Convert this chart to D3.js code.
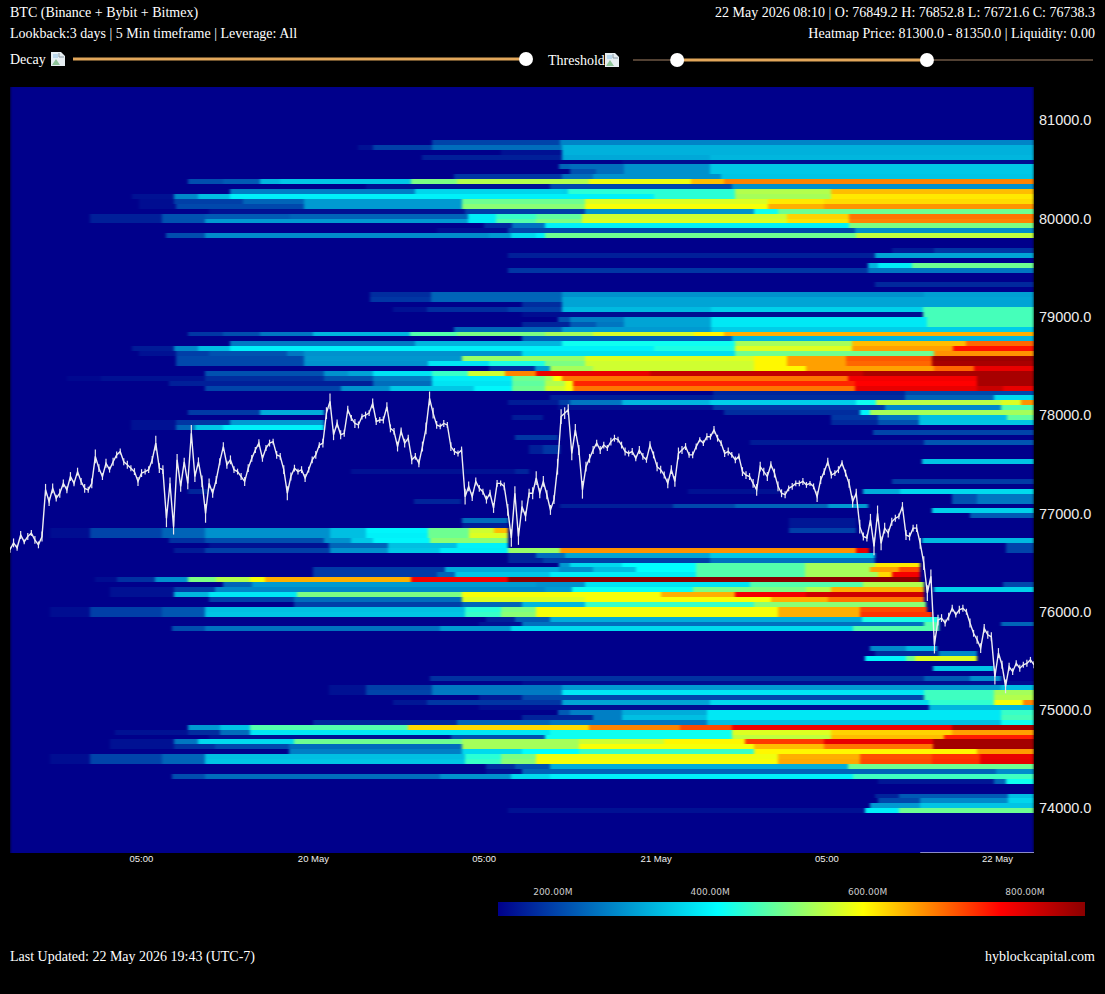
<!DOCTYPE html>
<html>
<head>
<meta charset="utf-8">
<script src="https://cdn.jsdelivr.net/npm/d3@7/dist/d3.min.js"></script>
<style>
	body { margin: 0; background: #000; }
	svg { display: block; }
	.serif { font-family: "Liberation Serif", serif; font-size: 14px; fill: #fff; }
	.x.axis text { font-family: "Liberation Sans", sans-serif; font-size: 9.5px; fill: #eee; }
	.y.axis text { font-family: "Liberation Sans", sans-serif; font-size: 14.5px; fill: #eee; }
	.legend.axis text { font-family: "DejaVu Sans", sans-serif; font-size: 9px; fill: #ccc; }
</style>
</head>
<body>
<div id="chart"></div>
<script>
var plot = {left:10, right:1034, top:87, bottom:853};

// x is hours since the left edge of the 3 day lookback
var lookbackHours = 72;
var xTickHours = [9.2, 21.3, 33.3, 45.4, 57.4, 69.4];
var xTickLabels = ["05:00", "20 May", "05:00", "21 May", "05:00", "22 May"];
var yTicks = [74000, 75000, 76000, 77000, 78000, 79000, 80000, 81000];

var headerLeft = ["BTC (Binance + Bybit + Bitmex)", "Lookback:3 days | 5 Min timeframe | Leverage: All"];
var headerRight = ["22 May 2026 08:10 | O: 76849.2 H: 76852.8 L: 76721.6 C: 76738.3", "Heatmap Price: 81300.0 - 81350.0 | Liquidity: 0.00"];

// colour bar
var legendStops = [131, 410, 595, 770, 877];
var legendColors = ["#00008b", "#00ffff", "#ffff00", "#ff0000", "#8b0000"];
var legendTicks = [200, 400, 600, 800];

// sliders
var decayValue = 100;
var thresholdValues = [9.6, 63.9];

// heatmap: low price of each 50$ row
var rowLows = [
	80750, 80700, 80650, 80600, 80550, 80500, 80450, 80400, 80350, 80300, 80250, 80200, 80150, 80100, 80050, 80000,
	79950, 79900, 79850, 79800, 79650, 79600, 79500, 79450,
	79300, 79200, 79150, 79100, 79050, 79000, 78950, 78900, 78850, 78800, 78750, 78700, 78650, 78600, 78550, 78500,
	78450, 78400, 78350, 78300, 78250, 78200, 78150, 78100, 78050, 78000, 77950, 77900, 77850, 77800, 77750, 77700,
	77650, 77600, 77500, 77400, 77300, 77200, 77150, 77100, 77050, 77000, 76950, 76900, 76850,
	76800, 76750, 76700, 76650, 76600, 76550, 76500, 76450, 76400, 76350, 76300, 76250, 76200, 76150, 76100, 76050,
	76000, 75950, 75900, 75850, 75800, 75600, 75550, 75500, 75400, 75300, 75250, 75200, 75150, 75100, 75050, 75000,
	74950, 74900, 74850, 74800, 74750, 74700, 74650, 74600, 74550, 74500, 74450, 74400, 74350, 74300, 74250,
	74100, 74050, 74000, 73950
];

// for each row, [start hour, liquidity in M]; a segment runs to the next start. 0 = nothing
var rowSegments = [
	[[29.7,205],[38.7,275]],
	[[24.5,150],[25.5,200],[29.7,250],[38.8,325]],
	[[34.5,150],[38.8,325]],
	[[29,165],[38.8,315],[49.2,330]],
	[[43,145]],
	[[38.6,240],[39.4,250],[43.2,290],[49.2,350]],
	[[39.4,220],[41.2,250],[43.2,290],[49.2,350]],
	[[31.2,190],[38.8,250],[41,290],[50,345]],
	[[12.5,215],[15,230],[17.6,330],[19,350],[28.2,500],[31.4,540],[40.7,585],[47.9,640],[50.2,680]],
	[[25,150],[38,210],[50.8,290]],
	[[15.5,270],[28.5,365],[38.8,360],[39.2,440],[51,540],[57.7,640]],
	[[8.6,150],[11.5,280],[13.2,340],[15.5,395],[45.3,440],[51,530],[57.7,610]],
	[[9.1,145],[11.5,200],[16.4,240],[20.7,300],[31.8,490],[40.4,570],[53.3,610],[57.2,620]],
	[[9.1,145],[11.7,210],[20.7,300],[31.8,510],[40.4,590],[53.3,650],[57.2,670]],
	[[14,150],[32,200],[40.4,290],[52.3,420],[54,490]],
	[[5.6,165],[10.7,220],[13.7,230],[19.7,240],[32.2,390],[34.2,450],[37,480],[40.2,560],[54.6,625],[59,690]],
	[[5.6,165],[10.7,220],[13.7,300],[32.2,390],[34.2,470],[37,500],[40.2,570],[54.6,615],[59,680]],
	[[33.3,175],[35.3,255],[37.6,395],[59,500]],
	[[30,145],[35,210],[59.4,285]],
	[[11,215],[13.7,285],[33.7,300],[35.2,370],[37,395],[37.6,490],[59.5,550]],
	[[62,160],[65,190]],
	[[35,165],[60.8,310]],
	[[60.3,330],[61,390],[63.4,490]],
	[[35,190],[60.3,260]],
	[[60.8,175]],
	[[25.3,180],[29.6,240],[38.8,290],[64.3,305]],
	[[25.3,190],[29.6,242],[38.8,310]],
	[[36,180],[38.8,310]],
	[[26.9,150],[29.3,180],[35,200],[38.8,335],[49.3,360],[64.2,460]],
	[[36,145],[64.2,460]],
	[[38.5,220],[39.4,270],[43.2,310],[49.3,385],[64.5,460]],
	[[36,170],[39.4,230],[41.2,260],[43.2,310],[49.3,385],[64.5,460]],
	[[31.2,240],[38.8,300],[49.3,355]],
	[[12.5,190],[15,215],[17.6,260],[21.3,330],[28.1,470],[31.4,500],[37.6,530],[41,565],[48.1,600],[50.2,650]],
	[[36,235],[50.8,330]],
	[[15.5,265],[28.5,330],[38.8,420],[51,530],[59.2,640],[67.2,700]],
	[[8.6,160],[11.5,280],[13.2,340],[15.5,395],[45.3,430],[51,570],[59.2,660],[66.3,760]],
	[[9.1,150],[11.7,200],[14,220],[19.5,260],[20.7,290],[36,375],[51,490],[65,670]],
	[[11.7,210],[20.7,295],[31.8,520],[40.4,570],[52.3,600],[54.6,660],[58.8,710],[64.8,860]],
	[[11.7,210],[20.7,290],[29.4,380],[33.7,430],[37.6,500],[40.4,560],[52.3,600],[54.6,660],[58.8,700],[64.8,850]],
	[[33.7,180],[36.9,300],[38,530],[41,560],[52.3,600],[56,660],[65,700],[67.8,790]],
	[[13.7,220],[22.1,290],[23.8,310],[25.5,380],[29.7,450],[32.2,560],[34.8,680],[37,790],[45,825],[60,850]],
	[[4,140],[6.4,150],[13.7,180],[22.1,220],[25.5,270],[29.7,390],[35.3,490],[37.6,530],[38.2,595],[38.8,690],[58.9,780],[68,850]],
	[[11.2,165],[25.5,250],[29.7,380],[35.3,480],[37.6,540],[39,590],[39.6,745],[59.4,770],[68,850]],
	[[13.7,205],[23.3,290],[26.7,350],[32.6,400],[35.3,490],[37.6,560],[39,590],[39.6,690],[59.4,790],[68,820],[69.8,790]],
	[[49.4,170],[62.9,210]],
	[[38,165],[49.4,180],[62.9,240],[69.2,370]],
	[[35,160],[38.6,200],[39.4,260],[43,330],[49.2,360],[59.5,420],[60.9,545],[69.7,570],[71.1,670]],
	[[38.5,150],[49.4,195],[61.5,280],[69.7,470]],
	[[12.5,195],[17.6,320],[22.1,0],[50.2,180],[59.8,400],[60.5,530]],
	[[35.3,160],[37.5,0],[57.7,190],[61,260],[63.9,340],[70.1,480]],
	[[8.5,150],[11.7,190],[15.5,300],[22.1,0],[57.7,175],[61,220],[63.9,345]],
	[[8.5,150],[11.7,240],[13,350],[15,395],[22.1,0]],
	[[60.7,205]],
	[[35.5,190],[38.5,0]],
	[[52,160],[64.3,225]],
	[[36.5,165],[37.5,190],[38.7,0]],
	[[36.5,165],[37.5,190],[38.7,0]],
	[[64.1,345]],
	[[24,150],[35.5,170],[36.5,0]],
	[[62,195]],
	[[12.5,170],[14,0],[47.7,150],[54.1,0],[60,320],[62.6,370]],
	[[66.2,220],[68,260]],
	[[28.4,170],[31.7,0],[66.2,220],[68,260]],
	[[38.7,165],[46.6,210],[51,240],[57.5,300],[60.3,0]],
	[[64.8,360]],
	[[67.5,230]],
	[[31.8,250],[35,0],[54.8,155],[59.5,0]],
	[[31.8,165],[35,0],[54.8,155],[59.5,0]],
	[[2.8,145],[5.6,205],[10.7,240],[13.7,290],[22.5,340],[25,400],[29.4,490],[32.3,560],[34,640],[35,0],[54.8,200],[59.5,0]],
	[[2.8,145],[5.6,205],[10.7,240],[13.7,290],[22.5,340],[25,395],[29.4,490],[32.3,570],[35,0]],
	[[11.2,185],[13.7,215],[22.1,290],[24,350],[25.5,400],[29.5,510],[35,0],[64.1,335]],
	[[14,150],[22.4,240],[26.6,340],[31.4,395],[35,0],[70,205]],
	[[11.5,160],[13.7,200],[22.5,290],[26.6,350],[30.2,390],[35,520],[38.7,670],[59.5,790],[60.4,0],[70,205]],
	[[35,170],[37,250],[39,310],[49.2,350],[60.8,0]],
	[[35,170],[37.5,200],[49.2,255],[60.8,0]],
	[[38.6,300],[39.4,370],[43,410],[48.2,470],[55.9,530],[60.8,610],[64,0]],
	[[21.3,195],[30.6,320],[38.6,290],[41,340],[44,410],[48.2,470],[55.9,530],[60.5,660],[62.5,720],[64,0]],
	[[21.3,195],[30,240],[31.3,350],[38,390],[48.2,470],[55.9,530],[61,620],[62,780],[64,0]],
	[[6,145],[7.5,185],[10.2,290],[12.5,500],[14.5,540],[16.9,590],[17.9,650],[28.2,780],[35,877],[64,0]],
	[[15,240],[17,300],[37,290],[40.4,380],[52,470],[60,540],[64.3,0],[69.8,210]],
	[[7,150],[11.5,200],[14.4,280],[37.6,300],[39.5,420],[48,500],[56,540],[57.7,650],[64.3,0],[65,360]],
	[[7,150],[11.5,330],[14,385],[20.2,500],[31.8,590],[45.8,650],[51,780],[56,815],[64.3,0]],
	[[14,200],[20,250],[31.8,570],[40.4,590],[53.5,650],[57.5,690],[64.3,0]],
	[[20,200],[31.8,240],[36,330],[40.4,450],[52.3,510],[64.4,0]],
	[[2.8,145],[5.6,200],[10.7,225],[13.7,340],[32,440],[34.5,500],[37,590],[54,650],[59.8,720],[64.5,0]],
	[[2.8,145],[5.6,200],[10.7,225],[13.7,345],[32,450],[34.5,510],[37,590],[54,650],[59.8,735],[64.8,0]],
	[[33.5,165],[35.5,230],[38,320],[59.9,430],[65.3,0]],
	[[33,150],[36,255],[64.3,470],[65.3,0],[69.7,240]],
	[[11.4,215],[13.7,255],[30.2,300],[35.2,370],[59.3,470],[65.3,0]],
	[[60.5,280],[63,330],[65.2,0]],
	[[60.8,180],[65.3,280],[68,0]],
	[[60.1,400],[63,490],[63.6,570],[68,0]],
	[[64.9,345],[69.2,0]],
	[[29.5,185],[64.3,230],[67.5,285],[69.7,0]],
	[[36,145]],
	[[22.4,150],[25,200],[29.7,260],[38.8,300],[69.7,340]],
	[[22.4,150],[25,205],[29.7,265],[38.8,385],[64.3,455],[69.2,530]],
	[[33,160],[36,210],[64.3,455],[69.2,540]],
	[[26.9,155],[29.3,190],[38.8,310],[49.2,370],[64.6,445],[69.2,590],[71.2,680]],
	[[33,145],[64.6,330]],
	[[38.5,230],[39.4,270],[43,320],[49,385],[69.7,450]],
	[[36,170],[41,270],[43,340],[49,385],[69.7,460]],
	[[21.3,175],[31.4,240],[38,260],[49,340],[69.7,420]],
	[[12.5,300],[14.8,345],[16.9,470],[28,620],[40.7,680],[47.1,720],[50.8,785],[66.2,855]],
	[[7.4,150],[12.5,180],[14.8,250],[16.9,385],[38,420],[50.8,570],[57.7,625],[66.2,660]],
	[[14,150],[31,220],[37.6,420],[50.8,550],[57.7,640],[65.7,750]],
	[[7,150],[11.5,260],[13.2,370],[20,490],[31.8,530],[40,560],[46,600],[51.7,730],[57.2,790],[64.9,855]],
	[[7,150],[11.5,185],[14.4,210],[19.6,250],[31.8,530],[40,590],[52.3,640],[57.2,690],[64.9,855]],
	[[19.6,270],[31.8,370],[36,410],[40,450],[52.3,600],[68,665]],
	[[2.8,145],[5.6,205],[10.7,240],[13.7,340],[32,440],[34.5,500],[37,585],[54,650],[59.8,715],[64.8,735],[68.2,790]],
	[[2.8,145],[5.6,205],[10.7,240],[13.7,345],[32,450],[34.5,510],[37,590],[54,655],[59.8,720],[64.8,740],[68.2,795]],
	[[33.5,180],[35.5,220],[38,320],[58.9,490]],
	[[33.5,150],[36,240],[69.3,285]],
	[[11.4,215],[13.7,250],[30.2,290],[35.2,370],[38,395],[59.3,455]],
	[[61,155],[69.2,240],[70,420]],
	[[60.8,170],[62.5,230],[70.2,340]],
	[[61,210],[64,280],[70.2,365]],
	[[60.5,300],[64,345]],
	[[35,150],[60.1,395],[62.5,490]]
];

// closes, one every 15 min
var closes = [
	76630,76700,76650,76780,76710,76765,76800,76730,76680,76765,77240,77120,77255,77155,77205,77305,77240,77375,77305,77425,
	77325,77255,77240,77305,77580,77460,77375,77510,77445,77525,77595,77630,77525,77495,77460,77425,77325,77410,77425,77445,
	77545,77715,77460,77445,76950,77305,76865,77545,77275,77525,77305,77815,77375,77525,77325,77000,77305,77205,77340,77525,
	77680,77495,77545,77445,77425,77375,77325,77460,77560,77645,77715,77560,77665,77715,77730,77595,77580,77445,77205,77375,
	77460,77425,77445,77360,77445,77545,77595,77695,77715,78020,78140,77800,77915,77800,77815,78055,77970,77915,77900,77985,
	78000,78020,78120,77935,77950,77950,78085,77865,77835,77680,77835,77715,77765,77545,77580,77510,77680,77865,78170,78020,
	77900,77885,77915,77900,77680,77630,77610,77645,77170,77275,77170,77325,77255,77220,77140,77205,77055,77305,77305,77275,
	77035,76750,77205,76765,77070,76970,77205,
	77205,77360,77205,77325,77190,77035,77140,77475,77985,78020,78055,77610,77850,77645,77240,77475,77560,77645,77715,77645,
	77695,77665,77730,77765,77750,77695,77630,77610,77630,77560,77645,77580,77545,77695,77595,77475,77445,77390,77305,77445,
	77325,77610,77645,77680,77595,77595,77680,77750,77715,77780,77780,77850,77765,77715,77610,77630,77595,77545,77580,77425,
	77390,77375,77305,77240,77475,77425,77375,77495,77410,77275,77205,77190,77255,77275,77305,77305,77325,77290,77305,77275,
	77170,77340,77425,77525,77390,77410,77445,77510,77410,77305,77120,77205,76865,76765,76750,76935,76665,77000,76695,76850,
	76800,76915,76950,76970,77070,76780,76765,76850,76850,76695,
	76495,76190,76360,75665,75915,75935,75885,75950,76035,75970,76020,76035,76000,75885,75780,75715,75630,75830,75765,75745,
	75340,75580,75460,75240,75440,75390,75475,75425,75460,75475,75510,75460
];

// half range in $ of the bars around each close
var wicks = [
	30,45,30,40,25,35,30,40,35,50,60,45,50,35,45,40,35,45,30,40,
	35,45,30,50,70,40,35,45,30,40,35,30,35,40,30,35,45,40,30,35,
	40,75,50,45,90,60,80,60,55,40,60,85,55,45,60,95,50,45,40,35,
	45,40,45,35,30,35,45,40,35,30,40,35,30,35,30,40,35,45,70,40,
	35,30,35,40,30,35,40,30,45,60,80,55,40,45,35,40,30,45,35,30,
	35,30,50,35,30,35,45,40,35,50,40,45,35,45,35,40,50,60,70,55,
	40,30,35,30,45,35,30,35,80,50,45,40,35,30,40,35,50,35,30,40,
	60,90,70,85,60,50,45,
	60,70,50,55,45,50,45,80,75,60,55,70,60,50,90,50,45,40,35,40,
	35,30,40,35,30,35,40,30,35,30,40,35,30,40,35,45,40,35,50,45,
	55,60,40,35,30,35,30,25,30,35,30,40,35,30,35,40,30,35,30,45,
	40,35,45,60,50,40,45,35,45,50,40,35,30,35,30,30,35,30,25,30,
	55,40,35,40,35,30,35,30,35,45,60,45,70,40,35,60,90,80,70,55,
	45,40,35,30,45,50,40,35,40,55,
	70,80,70,90,55,40,35,40,35,30,40,35,30,45,35,40,50,45,40,45,
	80,50,40,70,40,35,30,35,30,35,30,35
];

var svg = d3.select("#chart")
	.append("svg")
		.attr("width", 1105)
		.attr("height", 994);

var x = d3.scaleLinear()
	.domain([0, lookbackHours])
	.range([plot.left, plot.right]);

// price scale, 80000 sits at y=218.5 and one 50$ row is 4.915px
var y = d3.scaleLinear()
	.domain([80000 - (plot.bottom - 218.5) / 0.0983, 80000 + (218.5 - plot.top) / 0.0983])
	.range([plot.bottom, plot.top]);

var color = d3.scaleLinear()
	.domain(legendStops)
	.range(legendColors)
	.clamp(true);

//header texts
svg.selectAll(".head-left")
	.data(headerLeft)
	.enter().append("text")
		.attr("class", "serif head-left")
		.attr("x", 10)
		.attr("y", function(d, i){ return 17 + i * 21; })
		.text(function(d){ return d; });

svg.selectAll(".head-right")
	.data(headerRight)
	.enter().append("text")
		.attr("class", "serif head-right")
		.attr("x", 1095)
		.attr("y", function(d, i){ return 17 + i * 21; })
		.attr("text-anchor", "end")
		.text(function(d){ return d; });

//sliders
svg.append("text").attr("class", "serif").attr("x", 10).attr("y", 64).text("Decay");
svg.append("text").attr("class", "serif").attr("x", 548).attr("y", 65).text("Threshold");
brokenIcon(51, 52);
brokenIcon(605, 53);

var decayX = d3.scaleLinear().domain([0, 100]).range([73, 526]);
var thresholdX = d3.scaleLinear().domain([0, 100]).range([633, 1093]);

svg.append("line")
	.attr("x1", decayX(0)).attr("x2", decayX(decayValue))
	.attr("y1", 59).attr("y2", 59)
	.attr("stroke", "#e2a75b").attr("stroke-width", 3);
svg.append("circle")
	.attr("cx", decayX(decayValue)).attr("cy", 59).attr("r", 7).attr("fill", "#fff");

svg.append("line")
	.attr("x1", thresholdX(0)).attr("x2", thresholdX(100))
	.attr("y1", 60).attr("y2", 60)
	.attr("stroke", "#6e5745").attr("stroke-width", 1.5);
svg.append("line")
	.attr("x1", thresholdX(thresholdValues[0])).attr("x2", thresholdX(thresholdValues[1]))
	.attr("y1", 60).attr("y2", 60)
	.attr("stroke", "#e2a75b").attr("stroke-width", 3);
svg.selectAll(".knob")
	.data(thresholdValues)
	.enter().append("circle")
		.attr("class", "knob")
		.attr("cx", function(d){ return thresholdX(d); })
		.attr("cy", 60).attr("r", 7).attr("fill", "#fff");

//heatmap
var defs = svg.append("defs");

defs.append("clipPath").attr("id", "plot-clip")
	.append("rect")
		.attr("x", plot.left).attr("y", plot.top)
		.attr("width", plot.right - plot.left).attr("height", plot.bottom - plot.top);

// the reference is soft, more along time than across the rows
defs.append("filter").attr("id", "heat-blur")
	.attr("filterUnits", "userSpaceOnUse")
	.attr("x", 0).attr("y", 80).attr("width", 1105).attr("height", 780)
	.attr("color-interpolation-filters", "sRGB")
	.append("feGaussianBlur")
		.attr("stdDeviation", "1.8 0.6");

var canvas = svg.append("g").attr("clip-path", "url(#plot-clip)");
var heat = canvas.append("g").attr("filter", "url(#heat-blur)");

heat.append("rect")
	.attr("x", plot.left).attr("y", plot.top)
	.attr("width", plot.right - plot.left).attr("height", plot.bottom - plot.top)
	.attr("fill", legendColors[0]);

var rows = heat.selectAll(".row")
	.data(rowLows)
	.enter().append("g")
		.attr("class", "row");

rows.each(function(low, i){
	var segs = rowSegments[i];
	d3.select(this).selectAll("rect")
		.data(segs)
		.enter().append("rect")
			.attr("x", function(d){ return x(d[0]); })
			.attr("width", function(d, j){
				var end = j + 1 < segs.length ? segs[j + 1][0] : lookbackHours;
				return x(end) - x(d[0]);
			})
			.attr("y", y(low + 50))
			.attr("height", y(low) - y(low + 50))
			.attr("shape-rendering", "crispEdges")
			.attr("fill", function(d){ return d[1] ? color(d[1]) : legendColors[0]; });
});

//price line with its bars
var line = d3.line()
	.x(function(d, i){ return x(i * 0.25); })
	.y(function(d){ return y(d); });

canvas.selectAll(".wick")
	.data(closes)
	.enter().append("line")
		.attr("class", "wick")
		.attr("x1", function(d, i){ return x(i * 0.25); })
		.attr("x2", function(d, i){ return x(i * 0.25); })
		.attr("y1", function(d, i){ return y(d + wicks[i]); })
		.attr("y2", function(d, i){ return y(d - wicks[i]); })
		.attr("stroke", "#e6e6ec")
		.attr("stroke-width", 1.2);

canvas.append("path")
	.datum(closes)
	.attr("d", line)
	.attr("fill", "none")
	.attr("stroke", "#eeeef2")
	.attr("stroke-width", 1.4);

//axes
var xAxisCall = d3.axisBottom(x)
	.tickValues(xTickHours)
	.tickSize(0)
	.tickPadding(2)
	.tickFormat(function(d, i){ return xTickLabels[i]; });

var xAxis = svg.append("g")
	.attr("class", "x axis")
	.attr("transform", "translate(0, " + plot.bottom + ")")
	.call(xAxisCall);
xAxis.select(".domain").remove();

// short pale line along the bottom edge, right end of the plot
svg.append("line")
	.attr("x1", x(64)).attr("x2", x(lookbackHours))
	.attr("y1", plot.bottom - 0.5).attr("y2", plot.bottom - 0.5)
	.attr("stroke", "#8a8ac8");

var yAxisCall = d3.axisRight(y)
	.tickValues(yTicks)
	.tickSize(0)
	.tickPadding(5)
	.tickFormat(d3.format(".1f"));

var yAxis = svg.append("g")
	.attr("class", "y axis")
	.attr("transform", "translate(" + plot.right + ", 0)")
	.call(yAxisCall);
yAxis.select(".domain").remove();

//colour bar
var legendX = d3.scaleLinear()
	.domain([legendStops[0], legendStops[legendStops.length - 1]])
	.range([498, 1085]);

var gradient = defs.append("linearGradient")
	.attr("id", "legend-gradient");
gradient.selectAll("stop")
	.data(legendStops)
	.enter().append("stop")
		.attr("offset", function(d){ return legendX(d) / 587 - 498 / 587; })
		.attr("stop-color", function(d){ return color(d); });

svg.append("rect")
	.attr("x", 498).attr("y", 902)
	.attr("width", 587).attr("height", 14)
	.attr("fill", "url(#legend-gradient)");

var legendAxisCall = d3.axisTop(legendX)
	.tickValues(legendTicks)
	.tickSize(0)
	.tickPadding(7)
	.tickFormat(function(d){ return d3.format(".2f")(d) + "M"; });

var legendAxis = svg.append("g")
	.attr("class", "legend axis")
	.attr("transform", "translate(0, 902)")
	.call(legendAxisCall);
legendAxis.select(".domain").remove();

//footer
svg.append("text").attr("class", "serif")
	.attr("x", 10).attr("y", 961)
	.text("Last Updated: 22 May 2026 19:43 (UTC-7)");
svg.append("text").attr("class", "serif")
	.attr("x", 1095).attr("y", 961)
	.attr("text-anchor", "end")
	.text("hyblockcapital.com");

// the page shows a broken image icon next to each slider label
function brokenIcon(px, py) {
	var g = svg.append("g").attr("transform", "translate(" + px + ", " + py + ")");
	g.append("path")
		.attr("d", "M0 0H10L14 4V14H0Z")
		.attr("fill", "#e6eef2");
	g.append("path")
		.attr("d", "M1 13L5 7L9 13Z")
		.attr("fill", "#8fc49a");
	g.append("path")
		.attr("d", "M8 1V5H13")
		.attr("fill", "none")
		.attr("stroke", "#8a9aa6");
	g.append("path")
		.attr("d", "M2 2H7V6H2Z")
		.attr("fill", "#b9d6ea");
}
</script>
</body>
</html>
